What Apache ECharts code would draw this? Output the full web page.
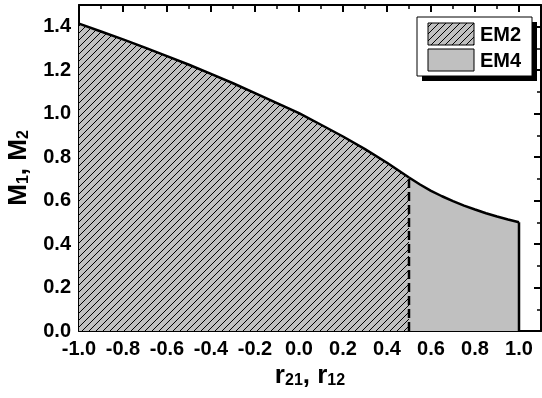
<!DOCTYPE html>
<html><head><meta charset="utf-8">
<script src="https://cdn.jsdelivr.net/npm/echarts@6/dist/echarts.min.js"></script>
<style>html,body{margin:0;padding:0;background:#fff}#c{width:542px;height:398px}</style>
</head><body><div id="c"></div>
<script>
// EM2 region boundary (r from -1.0 to 0.5)
const em2R = [-1.0,-0.9,-0.8,-0.7,-0.6,-0.5,-0.4,-0.3,-0.2,-0.1,0.0,0.1,0.2,0.3,0.4,0.5];
const em2M = [1.414,1.378,1.342,1.304,1.265,1.225,1.183,1.140,1.095,1.049,1.002,0.949,0.895,0.837,0.774,0.706];
// EM4 region boundary (r from 0.5 to 1.0)
const em4R = [0.50,0.55,0.60,0.65,0.70,0.75,0.80,0.85,0.90,0.95,1.00];
const em4M = [0.706,0.674,0.645,0.620,0.598,0.577,0.559,0.542,0.527,0.513,0.500];
const legendNames = ['EM2','EM4'];
const xRange = {min:-1.0, max:1.1, interval:0.2};
const yRange = {min:0.0, max:1.5, interval:0.2};

const FONT = 'Liberation Sans';
function hatch(){
  const c = document.createElement('canvas'); c.width = 7; c.height = 7;
  const g = c.getContext('2d');
  g.fillStyle = '#c0c0c0'; g.fillRect(0,0,7,7);
  g.strokeStyle = '#000'; g.lineWidth = 1;
  g.beginPath();
  g.moveTo(-1,8); g.lineTo(8,-1);
  g.moveTo(-1,1); g.lineTo(1,-1);
  g.moveTo(6,8); g.lineTo(8,6);
  g.stroke();
  return c;
}
const hatchPattern = {image: hatch(), repeat: 'repeat'};
const pair = (xs, ys) => xs.map((x,i)=>[x, ys[i]]);
const fmt = v => (Math.abs(v) < 1e-9 ? 0 : v).toFixed(1);

function axisCommon(showLabel){
  return {
    axisLine:{show:true, onZero:false, lineStyle:{color:'#000', width:2}},
    axisTick:{show:true, inside:true, length:7, lineStyle:{color:'#000', width:2}},
    minorTick:{show:true, splitNumber:2, length:4, lineStyle:{color:'#000', width:1.5}},
    splitLine:{show:false},
    axisLabel:{show:showLabel, showMaxLabel:false, formatter:fmt, color:'#000', fontSize:20, fontWeight:'bold', fontFamily:FONT, margin:8}
  };
}
const rich = {
  b:{fontSize:26, fontWeight:'bold', fontFamily:FONT, color:'#000', verticalAlign:'top', lineHeight:26},
  s:{fontSize:16, fontWeight:'bold', fontFamily:FONT, color:'#000', verticalAlign:'bottom', lineHeight:16, padding:[21,0,0,0]}
};
const nameStyle = {fontSize:26, fontWeight:'bold', fontFamily:FONT, color:'#000', rich:rich};

const chart = echarts.init(document.getElementById('c'));
chart.setOption({
  animation:false,
  backgroundColor:'#fff',
  grid:{left:79, right:1, top:5, bottom:67, containLabel:false, outerBoundsMode:'none'},
  xAxis:[
    Object.assign({type:'value', position:'bottom', ...xRange,
      name:'{b|r}{s|21}{b|, r}{s|12}', nameLocation:'middle', nameGap:32, nameMoveOverlap:false,
      nameTextStyle:nameStyle}, axisCommon(true)),
    Object.assign({type:'value', position:'top', ...xRange}, axisCommon(false))
  ],
  yAxis:[
    Object.assign({type:'value', position:'left', ...yRange,
      name:'{b|M}{s|1}{b|, M}{s|2}', nameLocation:'middle', nameGap:47, nameMoveOverlap:false,
      nameTextStyle:nameStyle}, axisCommon(true)),
    Object.assign({type:'value', position:'right', ...yRange}, axisCommon(false))
  ],
  series:[
    {name:legendNames[0], type:'line', data:pair(em2R, em2M), symbol:'none',
     lineStyle:{color:'#000', width:2.5}, itemStyle:{color:'#000'},
     areaStyle:{color:hatchPattern, opacity:1}, z:2},
    {name:legendNames[1], type:'line', data:pair(em4R, em4M), symbol:'none',
     lineStyle:{color:'#000', width:2.5}, itemStyle:{color:'#000'},
     areaStyle:{color:'#c0c0c0', opacity:1}, z:2},
    {type:'line', data:[[em4R[em4R.length-1], 0],[em4R[em4R.length-1], em4M[em4M.length-1]]], symbol:'none',
     lineStyle:{color:'#000', width:2.5}, z:3},
    {type:'line', data:[[em2R[em2R.length-1], 0],[em2R[em2R.length-1], em2M[em2M.length-1]]], symbol:'none',
     lineStyle:{color:'#000', width:2.5, type:[9,4]}, z:3}
  ],
  graphic:[
    {type:'rect', shape:{x:422,y:22,width:115,height:59}, style:{fill:'#000'}, z:10},
    {type:'rect', shape:{x:417,y:17,width:115,height:59}, style:{fill:'#fff', stroke:'#000', lineWidth:1}, z:11},
    {type:'rect', shape:{x:428,y:23,width:46,height:22}, style:{fill:hatchPattern, stroke:'#000', lineWidth:1}, z:12},
    {type:'rect', shape:{x:428,y:49,width:46,height:22}, style:{fill:'#c0c0c0', stroke:'#000', lineWidth:1}, z:12},
    {type:'text', x:480, y:35, style:{text:legendNames[0], font:'bold 20px '+FONT, fill:'#000', verticalAlign:'middle'}, z:12},
    {type:'text', x:480, y:61, style:{text:legendNames[1], font:'bold 20px '+FONT, fill:'#000', verticalAlign:'middle'}, z:12}
  ]
});
</script></body></html>
